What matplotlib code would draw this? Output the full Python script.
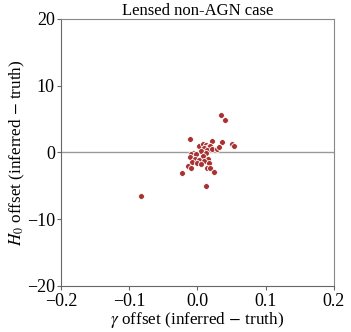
import numpy as np
import matplotlib
matplotlib.use('Agg')
import matplotlib.pyplot as plt

plt.rcParams['font.family'] = ['Liberation Serif', 'DejaVu Serif']
plt.rcParams['mathtext.fontset'] = 'stix'

# offsets (gamma, H0)
gamma_off = [0.034, 0.041, -0.011, 0.021, 0.036, 0.050, 0.053, 0.003, 0.0076,
             0.012, 0.016, 0.019, 0.0095, 0.014, 0.022, 0.028, 0.031, 0.0056,
             -0.006, -0.010, -0.0026, 0.012, 0.0085, -0.011, -0.0037, 0.002,
             0.015, 0.010, -0.0076, -0.0007, 0.017, 0.005, -0.014, -0.0095,
             0.0135, 0.019, 0.025, -0.022, 0.012, -0.083]
h0_off = [5.66, 4.9, 1.97, 1.77, 1.5, 1.3, 0.93, 1.02, 1.22,
          1.12, 0.87, 1.02, 0.62, 0.37, 0.47, 0.47, 0.77, 0.27,
          -0.12, -0.27, -0.22, -0.12, -0.52, -0.62, -1.02, -1.12,
          -1.02, -1.27, -1.47, -1.62, -1.62, -1.77, -2.02, -2.37,
          -2.27, -2.27, -2.87, -3.12, -4.97, -6.47]

fig = plt.figure(figsize=(3.51, 3.32), dpi=100)
ax = fig.add_axes([0.174, 0.139, 0.777, 0.804])

ax.axhline(0, color='#999999', lw=1, zorder=1)
ax.scatter(gamma_off, h0_off, s=18, color='#a83232', edgecolor='white',
           linewidth=0.6, zorder=3)

ax.set_xlim(-0.2, 0.2)
ax.set_ylim(-20, 20)
ax.set_xticks([-0.2, -0.1, 0.0, 0.1, 0.2])
ax.set_yticks([-20, -10, 0, 10, 20])
for s in ax.spines.values():
    s.set_color('#666666')
ax.spines['top'].set_color('#888888')
ax.spines['right'].set_color('#888888')
ax.tick_params(direction='out', length=3, width=0.8, color='#666666',
               labelsize=13, top=False, right=False)
ax.tick_params(axis='x', pad=2)
ax.tick_params(axis='y', pad=1.5)

ax.set_title('Lensed non-AGN case', fontsize=12, pad=1)
ax.set_xlabel(r'$\gamma$ offset (inferred $-$ truth)', fontsize=12.3, labelpad=0.5)
ax.set_ylabel(r'$H_0$ offset (inferred $-$ truth)', fontsize=12.3, labelpad=0)

fig.savefig('out.png', dpi=100)
